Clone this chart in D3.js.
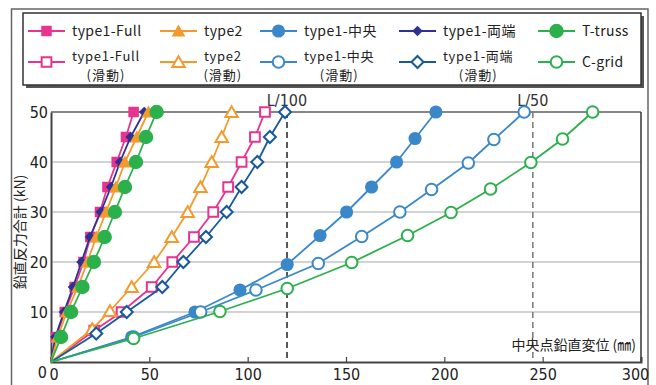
<!DOCTYPE html>
<html>
<head>
<meta charset="utf-8">
<script src="https://cdn.jsdelivr.net/npm/d3@7"></script>
<style>
body { margin: 0; background: #fff; }
svg text { font-family: "Noto Sans CJK JP", "Noto Sans", sans-serif; fill: #222; }
.num text, text.num { font-family: "Liberation Sans Narrow", "DejaVu Sans Condensed", sans-serif; }
</style>
</head>
<body>
<div id="chart"></div>
<script>
// load steps (kN) shared by the stiff specimens
var loads = [5, 10, 15, 20, 25, 30, 35, 40, 45, 50];

var fullX   = [2.6, 7, 12, 16.5, 20, 24.9, 28.7, 33.4, 38.1, 42];
var bothX   = [2.2, 6.6, 11.2, 15.5, 19.8, 25.3, 30.5, 35.1, 40.5, 47.4];
var type2X  = [3.4, 8, 13.7, 18.5, 23, 28, 33, 37.6, 43.6, 49.5];
var trussX  = [5.1, 10.2, 16, 21.8, 27.3, 32.5, 37.6, 43.2, 48.3, 53.7];

var fullSlideX  = [22, 35.9, 51.2, 61.7, 72.7, 82.5, 90.1, 96.9, 103.7, 108.8];
var fullSlideY  = [6.3, 10, 15, 20, 25, 30, 35, 40, 45, 50];
var type2SlideX = [21, 30, 41, 52.4, 61.4, 69.5, 76, 81.7, 86.8, 91.8];
var type2SlideY = [6.6, 10.2, 15, 20, 25, 30, 35, 40, 45, 50];
var bothSlideX  = [23, 38.5, 56.6, 67.3, 78.8, 89.3, 96.9, 104.9, 111.3, 119];
var bothSlideY  = [5.7, 10, 15, 20, 25, 30, 35, 40, 45, 50];

var centerX = [41, 73.2, 96.1, 120.1, 136.8, 150.3, 163, 175.7, 185.1, 195.7];
var centerY = [5, 10, 14.4, 19.5, 25.3, 30, 35, 40, 44.7, 50];
var centerSlideX = [42, 76.1, 104.2, 135.9, 158, 177.4, 193.5, 212.2, 225.2, 240.6];
var centerSlideY = [5, 10, 14.4, 19.7, 25.1, 30, 34.5, 39.8, 44.5, 50];
var cgridX = [42, 85.9, 120.1, 152.9, 181.3, 203.4, 223.5, 244, 260.1, 275.4];
var cgridY = [4.7, 10.1, 14.7, 19.9, 25.3, 29.9, 34.6, 39.9, 44.6, 50];

var xTicks = [0, 50, 100, 150, 200, 250, 300];
var yTicks = [0, 10, 20, 30, 40, 50];
var limits = [{x: 120, label: "L/100"}, {x: 245, label: "L/50"}];

var PINK = "#e8348e", ORANGE = "#f39a2c", BLUE = "#3a88c9", NAVY = "#2e3192",
    NAVY2 = "#165a9c", GREEN = "#2bb04c";

function zip(xs, ys) {
	return xs.map(function(x, i) { return [x, ys[i]]; });
}

// drawing order: later ones sit on top
var series = [
	{name: "type1-Full", slide: true,  color: PINK,   shape: "square",   open: true,  pts: zip(fullSlideX, fullSlideY)},
	{name: "type2",      slide: true,  color: ORANGE, shape: "triangle", open: true,  pts: zip(type2SlideX, type2SlideY)},
	{name: "type1-両端", slide: true,  color: NAVY2,  shape: "diamond",  open: true,  pts: zip(bothSlideX, bothSlideY)},
	{name: "type1-中央", slide: false, color: BLUE,   shape: "circle",   open: false, pts: zip(centerX, centerY)},
	{name: "type1-中央", slide: true,  color: BLUE,   shape: "circle",   open: true,  pts: zip(centerSlideX, centerSlideY)},
	{name: "C-grid",     slide: false, color: GREEN,  shape: "circle",   open: true,  pts: zip(cgridX, cgridY)},
	{name: "type1-Full", slide: false, color: PINK,   shape: "square",   open: false, pts: zip(fullX, loads)},
	{name: "type1-両端", slide: false, color: NAVY,   shape: "diamond",  open: false, pts: zip(bothX, loads)},
	{name: "type2",      slide: false, color: ORANGE, shape: "triangle", open: false, pts: zip(type2X, loads)},
	{name: "T-truss",    slide: false, color: GREEN,  shape: "circle",   open: false, pts: zip(trussX, loads), big: true}
];

// legend layout: columns, row 1 = solid, row 2 = sliding / C-grid
var legendRow1 = [series[6], series[8], series[3], series[7], series[9]];
var legendRow2 = [series[0], series[1], series[4], series[2], series[5]];
var legendCols = [28, 160, 260, 399, 538];

var svg = d3.select("#chart").append("svg")
	.attr("width", 656)
	.attr("height", 385);

var x = d3.scaleLinear().domain([0, 300]).range([51, 641]);
var y = d3.scaleLinear().domain([0, 50]).range([362, 112]);

function symbolPath(s) {
	if (s.shape == "square") return d3.symbol().type(d3.symbolSquare).size(s.open ? 95 : 110)();
	if (s.shape == "triangle") return d3.symbol().type(d3.symbolTriangle).size(s.open ? 68 : 82)();
	if (s.shape == "diamond") return d3.symbol().type(d3.symbolSquare).size(s.open ? 72 : 56)();
	return d3.symbol().type(d3.symbolCircle).size(s.open ? 105 : (s.big ? 165 : 135))();
}

function drawMarker(g, s, cx, cy) {
	g.append("path")
		.attr("d", symbolPath(s))
		.attr("transform", "translate(" + cx + "," + cy + ")" + (s.shape == "diamond" ? " rotate(45)" : "") + (s.shape == "triangle" ? " translate(0,1.5)" : ""))
		.attr("fill", s.open ? "#fff" : s.color)
		.attr("stroke", s.open ? s.color : "none")
		.attr("stroke-width", 2);
}

// outer frame
svg.append("rect")
	.attr("x", 11.5).attr("y", 9)
	.attr("width", 636.5).attr("height", 400)
	.attr("fill", "none").attr("stroke", "#666").attr("stroke-width", 1.5);

// grid lines
svg.append("g").selectAll("line")
	.data(yTicks.filter(function(d) { return d > 0 && d < 50; }))
	.enter().append("line")
	.attr("x1", x(0)).attr("x2", x(300))
	.attr("y1", function(d) { return y(d); })
	.attr("y2", function(d) { return y(d); })
	.attr("stroke", "#c4c4c4").attr("stroke-width", 1.5);

// plot border top/right
svg.append("line").attr("x1", x(0)).attr("x2", x(300)).attr("y1", y(50)).attr("y2", y(50))
	.attr("stroke", "#111").attr("stroke-width", 1.2);
svg.append("line").attr("x1", x(300)).attr("x2", x(300)).attr("y1", y(50)).attr("y2", y(0))
	.attr("stroke", "#333").attr("stroke-width", 1.5);

// axes
var xAxis = svg.append("g").attr("class", "num")
	.attr("transform", "translate(0," + y(0) + ")")
	.call(d3.axisBottom(x).tickValues(xTicks).tickSize(-5).tickPadding(7));
var yAxis = svg.append("g").attr("class", "num")
	.attr("transform", "translate(" + x(0) + ",0)")
	.call(d3.axisLeft(y).tickValues(yTicks).tickSize(0).tickPadding(3));

svg.selectAll(".domain").attr("stroke", "#444").attr("stroke-width", 2);
xAxis.selectAll(".tick line").attr("stroke", "#444").attr("stroke-width", 1.2);
svg.selectAll(".tick text").attr("font-size", 16).attr("fill", "#222");
xAxis.selectAll(".tick text").filter(function(d) { return d == 0; }).attr("text-anchor", "start").attr("dx", -2);
xAxis.selectAll(".tick text").filter(function(d) { return d == 300; }).attr("dx", -6);
yAxis.selectAll(".tick text").filter(function(d) { return d == 0; }).attr("dy", "0.95em").attr("dx", -1);

// deflection limits
svg.append("g").selectAll("line")
	.data(limits)
	.enter().append("line")
	.attr("x1", function(d) { return x(d.x); })
	.attr("x2", function(d) { return x(d.x); })
	.attr("y1", y(50)).attr("y2", y(0))
	.attr("stroke", function(d, i) { return i == 0 ? "#222" : "#777"; })
	.attr("stroke-width", 1.5)
	.attr("stroke-dasharray", "6,4");
svg.append("g").selectAll("text")
	.data(limits)
	.enter().append("text")
	.attr("class", "num")
	.attr("x", function(d) { return x(d.x); })
	.attr("y", 106)
	.attr("text-anchor", "middle")
	.attr("font-size", 16)
	.style("fill", "#333")
	.text(function(d) { return d.label; });

// axis titles
svg.append("text")
	.attr("x", 636).attr("y", 350)
	.attr("text-anchor", "end")
	.attr("font-size", 14)
	.text("中央点鉛直変位 (㎜)");
svg.append("text")
	.attr("transform", "translate(25,232) rotate(-90)")
	.attr("text-anchor", "middle")
	.attr("font-size", 14)
	.text("鉛直反力合計 (kN)");

// series
var line = d3.line()
	.x(function(d) { return x(d[0]); })
	.y(function(d) { return y(d[1]); });

series.forEach(function(s) {
	var g = svg.append("g");
	g.append("path")
		.attr("d", line([[0, 0]].concat(s.pts)))
		.attr("fill", "none")
		.attr("stroke", s.color)
		.attr("stroke-width", 1.8);
	s.pts.forEach(function(p) { drawMarker(g, s, x(p[0]), y(p[1])); });
});

// legend
var lg = svg.append("g");
lg.append("rect").attr("x", 26).attr("y", 16).attr("width", 618).attr("height", 72).attr("fill", "#555");
lg.append("rect").attr("x", 23).attr("y", 13).attr("width", 618).attr("height", 72)
	.attr("fill", "#fff").attr("stroke", "#333").attr("stroke-width", 1.5);

function legendItem(s, col, rowY, lines) {
	var x0 = legendCols[col];
	var g = lg.append("g");
	g.append("line").attr("x1", x0).attr("x2", x0 + 37).attr("y1", rowY).attr("y2", rowY)
		.attr("stroke", s.color).attr("stroke-width", 1.8);
	drawMarker(g, s, x0 + 18.5, rowY);
	var t0 = x0 + 44;
	if (lines.length == 1) {
		g.append("text").attr("x", t0).attr("y", rowY + 5).attr("font-size", 14)
			.attr("letter-spacing", 0.4).text(lines[0]);
	} else {
		var t = g.append("text").attr("x", t0).attr("y", rowY - 1).attr("font-size", 13)
			.attr("letter-spacing", 0.7).text(lines[0]);
		var w = t.node().getComputedTextLength();
		g.append("text").attr("x", t0 + w / 2).attr("y", rowY + 18).attr("font-size", 13)
			.attr("text-anchor", "middle").attr("letter-spacing", 1).text(lines[1]);
	}
}

legendRow1.forEach(function(s, i) { legendItem(s, i, 31, [s.name]); });
legendRow2.forEach(function(s, i) {
	legendItem(s, i, 62, s.slide ? [s.name, "(滑動)"] : [s.name]);
});
</script>
</body>
</html>
